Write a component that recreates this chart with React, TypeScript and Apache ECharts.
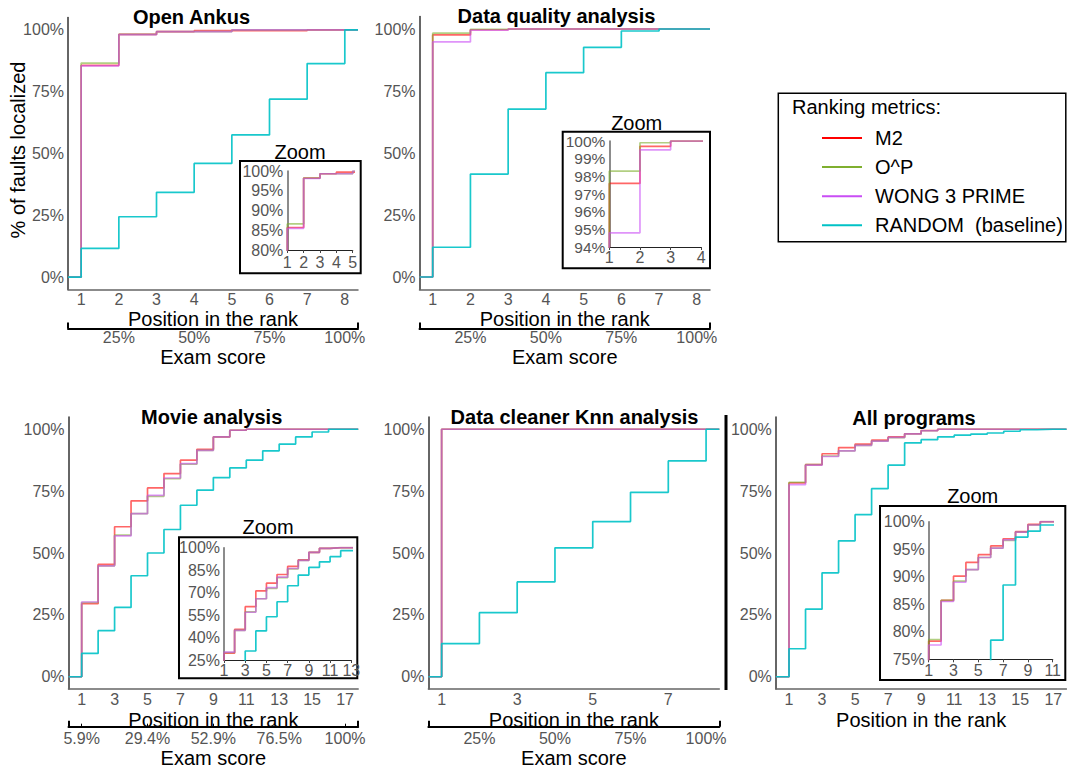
import React, { useEffect, useRef } from "react";
import * as echarts from "echarts";

// ---------------- DATA ----------------
const metricNames = ["M2", "O^P", "WONG 3 PRIME", "RANDOM  (baseline)"];
const metricColors = ["#FF0000", "#7FAF2F", "#C94DF5", "#00C2C6"];

const pos8 = [1, 2, 3, 4, 5, 6, 7, 8];
const pos17 = [1, 2, 3, 4, 5, 6, 7, 8, 9, 10, 11, 12, 13, 14, 15, 16, 17];
const pos11 = [1, 2, 3, 4, 5, 6, 7, 8, 9, 10, 11];
const pos13 = [1, 2, 3, 4, 5, 6, 7, 8, 9, 10, 11, 12, 13];

// Open Ankus
const ankusM2 = [0.857, 0.982, 0.993, 0.997, 0.997, 0.997, 1.0, 1.0];
const ankusOP = [0.866, 0.982, 0.993, 0.993, 1.0, 1.0, 1.0, 1.0];
const ankusWong = [0.855, 0.981, 0.993, 0.993, 1.0, 1.0, 1.0, 1.0];
const ankusRandom = [0.116, 0.244, 0.343, 0.46, 0.575, 0.72, 0.864, 1.0];

// Data quality analysis
const dqM2 = [0.976, 0.997, 1.0, 1.0, 1.0, 1.0, 1.0, 1.0];
const dqOP = [0.983, 0.999, 1.0, 1.0, 1.0, 1.0, 1.0, 1.0];
const dqWong = [0.948, 0.995, 1.0, 1.0, 1.0, 1.0, 1.0, 1.0];
const dqRandom = [0.12, 0.415, 0.677, 0.824, 0.926, 0.992, 1.0, 1.0];

// Movie analysis
const movieM2 = [0.295, 0.454, 0.606, 0.711, 0.763, 0.821, 0.875, 0.919, 0.969, 0.996, 1, 1, 1, 1, 1, 1, 1];
const movieOP = [0.3, 0.448, 0.572, 0.659, 0.729, 0.8, 0.859, 0.915, 0.969, 0.996, 1, 1, 1, 1, 1, 1, 1];
const movieWong = [0.302, 0.448, 0.569, 0.659, 0.733, 0.803, 0.861, 0.915, 0.969, 0.996, 1, 1, 1, 1, 1, 1, 1];
const movieRandom = [0.094, 0.186, 0.28, 0.408, 0.5, 0.595, 0.693, 0.754, 0.805, 0.844, 0.875, 0.913, 0.94, 0.969, 0.989, 1.0, 1.0];
const movieZoomRandom = [0.094, 0.186, 0.31, 0.444, 0.539, 0.639, 0.746, 0.817, 0.869, 0.906, 0.94, 0.98, 0.98];

// Data cleaner Knn analysis
const knnM2 = [1, 1, 1, 1, 1, 1, 1, 1];
const knnOP = [1, 1, 1, 1, 1, 1, 1, 1];
const knnWong = [1, 1, 1, 1, 1, 1, 1, 1];
const knnRandom = [0.134, 0.259, 0.383, 0.521, 0.627, 0.745, 0.872, 1.0];

// All programs
const allM2 = [0.783, 0.857, 0.901, 0.926, 0.94, 0.956, 0.969, 0.982, 0.995, 1, 1, 1, 1, 1, 1, 1, 1];
const allOP = [0.786, 0.857, 0.892, 0.913, 0.935, 0.952, 0.966, 0.981, 0.994, 1, 1, 1, 1, 1, 1, 1, 1];
const allWong = [0.776, 0.855, 0.89, 0.913, 0.935, 0.952, 0.967, 0.981, 0.994, 1, 1, 1, 1, 1, 1, 1, 1];
const allRandom = [0.113, 0.273, 0.42, 0.549, 0.655, 0.76, 0.855, 0.945, 0.958, 0.969, 0.976, 0.98, 0.985, 0.992, 0.998, 1.0, 1.0];
const allZoomRandom = [0.113, 0.273, 0.42, 0.549, 0.655, 0.785, 0.885, 0.972, 0.983, 0.994, 0.994];

// tick labels
const mainYTicks = [0, 0.25, 0.5, 0.75, 1];
const ticks8 = [1, 2, 3, 4, 5, 6, 7, 8];
const ticksOdd17 = [1, 3, 5, 7, 9, 11, 13, 15, 17];
const ticksOdd7 = [1, 3, 5, 7];
const examTicks8 = [2, 4, 6, 8];
const examTicks17 = [1, 5, 9, 13, 17];
const zoomAnkusY = [0.8, 0.85, 0.9, 0.95, 1.0];
const zoomAnkusX = [1, 2, 3, 4, 5];
const zoomDqY = [0.94, 0.95, 0.96, 0.97, 0.98, 0.99, 1.0];
const zoomDqX = [1, 2, 3, 4];
const zoomMovieY = [0.25, 0.4, 0.55, 0.7, 0.85, 1.0];
const zoomMovieX = [1, 3, 5, 7, 9, 11, 13];
const zoomAllY = [0.75, 0.8, 0.85, 0.9, 0.95, 1.0];
const zoomAllX = [1, 3, 5, 7, 9, 11];

// ---------------- STYLE ----------------
const FONT = "'Liberation Sans', Arial, Helvetica, sans-serif";
const TICK_COLOR = "#555555";
const TICK_SIZE = 16;

function pct(v: number) {
  return Math.round(v * 100) + "%";
}

function stepData(pos: number[], vals: number[], xMin: number, xMax: number) {
  const d: number[][] = [[xMin, 0]];
  pos.forEach((p, i) => d.push([p, vals[i]]));
  d.push([xMax, vals[vals.length - 1]]);
  return d;
}

const App: React.FC = () => {
  const ref = useRef<HTMLDivElement>(null);

  useEffect(() => {
    if (!ref.current) return;
    const chart = echarts.init(ref.current, null, { renderer: "svg" });

    const grids: any[] = [];
    const xAxes: any[] = [];
    const yAxes: any[] = [];
    const series: any[] = [];

    const lbl = (extra: any = {}) => ({
      color: TICK_COLOR,
      fontSize: TICK_SIZE,
      fontFamily: FONT,
      ...extra,
    });

    const lineOf = (k: number, xi: number, yi: number, data: number[][], z: number) => ({
      type: "line",
      name: metricNames[k],
      xAxisIndex: xi,
      yAxisIndex: yi,
      data,
      step: "end",
      symbol: "none",
      showSymbol: false,
      clip: true,
      silent: true,
      z,
      itemStyle: { color: metricColors[k] },
      lineStyle: { color: metricColors[k], width: 1.7, opacity: k === 3 ? 0.9 : 0.6 },
      emphasis: { disabled: true },
    });

    type MainPanel = {
      grid: any;
      xMin: number;
      xMax: number;
      xTicks: number[];
      pos: number[];
      vals: number[][];
      tickMargin: number;
      posGap: number;
      exam?: { ticks: number[]; total: number; offset: number; margin: number; gap: number; minor?: boolean };
    };

    const addMain = (p: MainPanel) => {
      const gi = grids.length;
      grids.push({ ...p.grid, containLabel: false, outerBoundsMode: "none", show: false });
      const xi = xAxes.length;
      xAxes.push({
        gridIndex: gi,
        type: "value",
        min: p.xMin,
        max: p.xMax,
        axisLine: { show: true, onZero: false, lineStyle: { color: "#666", width: 1.5 } },
        axisTick: { show: false },
        splitLine: { show: false },
        axisLabel: lbl({ customValues: p.xTicks, margin: p.tickMargin }),
        name: "Position in the rank",
        nameLocation: "middle",
        nameGap: p.posGap,
        nameMoveOverlap: false,
        nameTextStyle: { fontSize: 20, color: "#000", fontFamily: FONT },
      });
      if (p.exam) {
        const ex = p.exam;
        xAxes.push({
          gridIndex: gi,
          type: "value",
          position: "bottom",
          offset: ex.offset,
          min: p.xMin,
          max: p.xMax,
          axisLine: { show: true, onZero: false, lineStyle: { color: "#000", width: 2 } },
          axisTick: { show: true, inside: true, length: 6, customValues: [p.xMin, p.xMax], lineStyle: { color: "#000", width: 2 } },
          splitLine: { show: false },
          axisLabel: lbl({
            customValues: ex.ticks,
            margin: ex.margin,
            formatter: (v: number) => parseFloat(((v / ex.total) * 100).toFixed(1)) + "%",
          }),
          name: "Exam score",
          nameLocation: "middle",
          nameGap: ex.gap,
          nameMoveOverlap: false,
          nameTextStyle: { fontSize: 20, color: "#000", fontFamily: FONT },
        });
        if (ex.minor) {
          xAxes.push({
            gridIndex: gi,
            type: "value",
            position: "bottom",
            offset: ex.offset,
            min: p.xMin,
            max: p.xMax,
            axisLine: { show: false, onZero: false },
            axisTick: { show: true, inside: true, length: 3, customValues: ex.ticks, lineStyle: { color: "#000", width: 1 } },
            splitLine: { show: false },
            axisLabel: { show: false },
          });
        }
      }
      const yi = yAxes.length;
      yAxes.push({
        gridIndex: gi,
        type: "value",
        min: -0.05,
        max: 1.05,
        axisLine: { show: true, onZero: false, lineStyle: { color: "#333", width: 1.5 } },
        axisTick: { show: false },
        splitLine: { show: false },
        axisLabel: lbl({ customValues: mainYTicks, margin: 4, formatter: pct }),
      });
      p.vals.forEach((vals, k) => {
        series.push(lineOf(k, xi, yi, stepData(p.pos, vals, p.xMin, p.xMax), 2));
      });
    };

    type Inset = {
      grid: any;
      xMin: number;
      xMax: number;
      yMin: number;
      yMax: number;
      xTicks: number[];
      yTicks: number[];
      xMargin: number;
      ySize?: number;
      pos: number[][];
      vals: number[][];
    };

    const addInset = (p: Inset) => {
      const gi = grids.length;
      grids.push({ ...p.grid, containLabel: false, outerBoundsMode: "none", show: false, z: 10 });
      const xi = xAxes.length;
      xAxes.push({
        gridIndex: gi,
        type: "value",
        min: p.xMin,
        max: p.xMax,
        z: 10,
        axisLine: { show: true, onZero: false, lineStyle: { color: "#222", width: 1.2 } },
        axisTick: { show: true, length: 3, customValues: p.xTicks, lineStyle: { color: "#444" } },
        splitLine: { show: false },
        axisLabel: lbl({ customValues: p.xTicks, margin: p.xMargin }),
      });
      const yi = yAxes.length;
      yAxes.push({
        gridIndex: gi,
        type: "value",
        min: p.yMin,
        max: p.yMax,
        z: 10,
        axisLine: { show: true, onZero: false, lineStyle: { color: "#666", width: 1.5 } },
        axisTick: { show: false },
        splitLine: { show: false },
        axisLabel: lbl({ customValues: p.yTicks, margin: 4, formatter: pct, fontSize: p.ySize || TICK_SIZE }),
      });
      p.vals.forEach((vals, k) => {
        series.push(lineOf(k, xi, yi, stepData(p.pos[k], vals, 0, p.xMax + 1), 12));
      });
    };

    // main panels
    addMain({
      grid: { left: 68, top: 17.6, width: 290, height: 271.8 },
      xMin: 0.65, xMax: 8.35, xTicks: ticks8, pos: pos8, tickMargin: 2, posGap: 20,
      vals: [ankusM2, ankusOP, ankusWong, ankusRandom],
      exam: { ticks: examTicks8, total: 8, offset: 39, margin: 1.2, gap: 19 },
    });
    addMain({
      grid: { left: 419.5, top: 16.6, width: 290.5, height: 272.8 },
      xMin: 0.65, xMax: 8.35, xTicks: ticks8, pos: pos8, tickMargin: 2, posGap: 20,
      vals: [dqM2, dqOP, dqWong, dqRandom],
      exam: { ticks: examTicks8, total: 8, offset: 39, margin: 1.2, gap: 19 },
    });
    addMain({
      grid: { left: 68.5, top: 416.9, width: 289.7, height: 272.2 },
      xMin: 0.2, xMax: 17.8, xTicks: ticksOdd17, pos: pos17, tickMargin: 2, posGap: 21,
      vals: [movieM2, movieOP, movieWong, movieRandom],
      exam: { ticks: examTicks17, total: 17, offset: 37.6, margin: 3.3, gap: 21.3, minor: true },
    });
    addMain({
      grid: { left: 428.4, top: 416.9, width: 290.9, height: 272.2 },
      xMin: 0.65, xMax: 8.35, xTicks: ticksOdd7, pos: pos8, tickMargin: 2, posGap: 21,
      vals: [knnM2, knnOP, knnWong, knnRandom],
      exam: { ticks: examTicks8, total: 8, offset: 37.6, margin: 3.3, gap: 21.3 },
    });
    addMain({
      grid: { left: 775.8, top: 416.9, width: 290.7, height: 272.2 },
      xMin: 0.2, xMax: 17.8, xTicks: ticksOdd17, pos: pos17, tickMargin: 2, posGap: 21,
      vals: [allM2, allOP, allWong, allRandom],
    });

    // insets
    addInset({
      grid: { left: 287.3, top: 171, width: 65.4, height: 79 },
      xMin: 1, xMax: 5, yMin: 0.8, yMax: 1.0, xTicks: zoomAnkusX, yTicks: zoomAnkusY, xMargin: 4,
      pos: [pos8, pos8, pos8, pos8],
      vals: [ankusM2, ankusOP, ankusWong, ankusRandom],
    });
    addInset({
      grid: { left: 609.3, top: 141, width: 92, height: 106 },
      xMin: 1, xMax: 4, yMin: 0.94, yMax: 1.0, xTicks: zoomDqX, yTicks: zoomDqY, xMargin: 2, ySize: 15.5,
      pos: [pos8, pos8, pos8, pos8],
      vals: [dqM2, dqOP, dqWong, dqRandom],
    });
    addInset({
      grid: { left: 224, top: 547.7, width: 127.3, height: 112.3 },
      xMin: 1, xMax: 13, yMin: 0.25, yMax: 1.0, xTicks: zoomMovieX, yTicks: zoomMovieY, xMargin: 2,
      pos: [pos17, pos17, pos17, pos13],
      vals: [movieM2, movieOP, movieWong, movieZoomRandom],
    });
    addInset({
      grid: { left: 928.7, top: 521.7, width: 124, height: 137.6 },
      xMin: 1, xMax: 11, yMin: 0.75, yMax: 1.0, xTicks: zoomAllX, yTicks: zoomAllY, xMargin: 3,
      pos: [pos17, pos17, pos17, pos11],
      vals: [allM2, allOP, allWong, allZoomRandom],
    });

    const txt = (text: string, x: number, y: number, size: number, bold = false, extra: any = {}) => ({
      type: "text",
      x,
      y,
      z: 20,
      silent: true,
      ...extra,
      style: {
        text,
        fill: "#000",
        fontSize: size,
        fontWeight: bold ? "bold" : "normal",
        fontFamily: FONT,
        align: extra.align || "center",
        verticalAlign: "middle",
        textAlign: extra.align || "center",
        textVerticalAlign: "middle",
      },
    });

    const box = (x: number, y: number, w: number, h: number, lw = 2, z = 5) => ({
      type: "rect",
      z,
      silent: true,
      shape: { x, y, width: w, height: h },
      style: { fill: "#fff", stroke: "#000", lineWidth: lw },
    });

    const graphic: any[] = [
      // panel titles
      txt("Open Ankus", 191.5, 16.5, 20, true),
      txt("Data quality analysis", 556.5, 16, 20, true),
      txt("Movie analysis", 211.7, 416.7, 20, true),
      txt("Data cleaner Knn analysis", 574.5, 416.7, 20, true),
      txt("All programs", 914, 417.5, 20, true),
      // y-axis title
      txt("% of faults localized", 18, 150, 20, false, { rotation: Math.PI / 2 }),
      // inset boxes + titles
      box(240, 161, 120.7, 112.3),
      box(562.7, 131.7, 147.3, 136.6),
      box(179, 537.3, 178.3, 141),
      box(880, 506, 185.3, 174),
      txt("Zoom", 300, 152, 20),
      txt("Zoom", 636.7, 122.7, 20),
      txt("Zoom", 268, 527, 20),
      txt("Zoom", 972.7, 496, 20),
      // separator
      {
        type: "line",
        z: 20,
        silent: true,
        shape: { x1: 726, y1: 415, x2: 726, y2: 690 },
        style: { stroke: "#000", lineWidth: 3 },
      },
      // legend box + title
      {
        type: "rect",
        z: 1,
        silent: true,
        shape: { x: 778.3, y: 93.3, width: 287.5, height: 148.4 },
        style: { fill: "#fff", stroke: "#000", lineWidth: 1.5 },
      },
      txt("Ranking metrics:", 792, 107, 20, false, { align: "left" }),
    ];

    const option: any = {
      animation: false,
      backgroundColor: "#fff",
      grid: grids,
      xAxis: xAxes,
      yAxis: yAxes,
      series,
      graphic: { elements: graphic },
      legend: {
        show: true,
        orient: "vertical",
        left: 817,
        top: 123,
        z: 30,
        itemWidth: 40,
        itemHeight: 2,
        itemGap: 9.1,
        icon: "rect",
        selectedMode: false,
        data: metricNames,
        textStyle: { fontSize: 20, color: "#000", fontFamily: FONT, lineHeight: 20, padding: [0, 0, 0, 8] },
      },
    };

    chart.setOption(option);
    return () => chart.dispose();
  }, []);

  return (
    <div
      ref={ref}
      style={{ position: "absolute", left: 0, top: 0, width: 1067, height: 769, background: "#fff" }}
    />
  );
};

export default App;
